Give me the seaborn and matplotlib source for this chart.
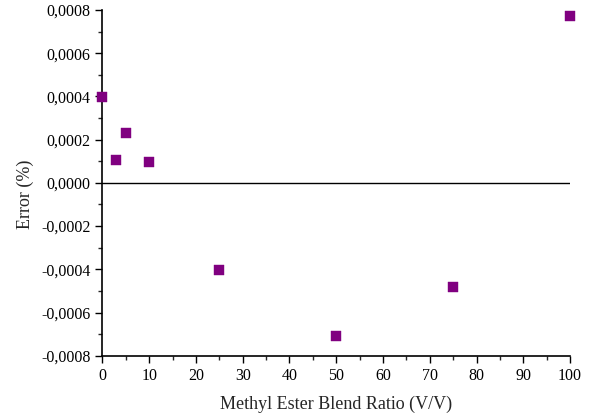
import matplotlib
matplotlib.use("Agg")
import matplotlib.pyplot as plt
from matplotlib.ticker import MultipleLocator, FuncFormatter
import seaborn as sns
import pandas as pd

blend_ratio = [0, 3, 5, 10, 25, 50, 75, 100]
error_pct = [0.000398, 0.000106, 0.000231, 0.000097, -0.000403, -0.000708, -0.000481, 0.000773]

sns.set_style("ticks")
plt.rcParams["font.family"] = ["Liberation Serif", "DejaVu Serif"]

df = pd.DataFrame({"ratio": blend_ratio, "error": error_pct})

fig = plt.figure(figsize=(5.92, 4.19), dpi=100)
ax = fig.add_axes([0.173, 0.151, 0.790, 0.825])

sns.scatterplot(data=df, x="ratio", y="error", marker="s", s=55,
                color="#800080", edgecolor="#800080", linewidth=0.3,
                ax=ax, zorder=3, clip_on=False)

ax.axhline(0, color="black", lw=1.0, zorder=2)

ax.set_xlim(0, 100)
ax.set_ylim(-0.0008, 0.0008)
ax.xaxis.set_major_locator(MultipleLocator(10))
ax.xaxis.set_minor_locator(MultipleLocator(5))
ax.yaxis.set_major_locator(MultipleLocator(0.0002))
ax.yaxis.set_minor_locator(MultipleLocator(0.0001))
ax.yaxis.set_major_formatter(FuncFormatter(lambda v, p: f"{v:.4f}".replace(".", ",").replace("-0,0000", "0,0000")))
ax.xaxis.set_major_formatter(FuncFormatter(lambda v, p: f"{v:.0f}"))

ax.tick_params(which="major", direction="out", length=5, width=1, labelsize=11.5, colors="black")
ax.tick_params(which="minor", direction="out", length=3, width=1)

for side in ["top", "right"]:
    ax.spines[side].set_visible(False)
for side in ["left", "bottom"]:
    ax.spines[side].set_linewidth(1.2)
    ax.spines[side].set_color("black")

ax.set_xlabel("Methyl Ester Blend Ratio (V/V)", fontsize=13, labelpad=9)
ax.set_ylabel("Error (%)", fontsize=13)
ax.yaxis.set_label_coords(-0.147, 0.468)

fig.savefig("out.png", dpi=100)
